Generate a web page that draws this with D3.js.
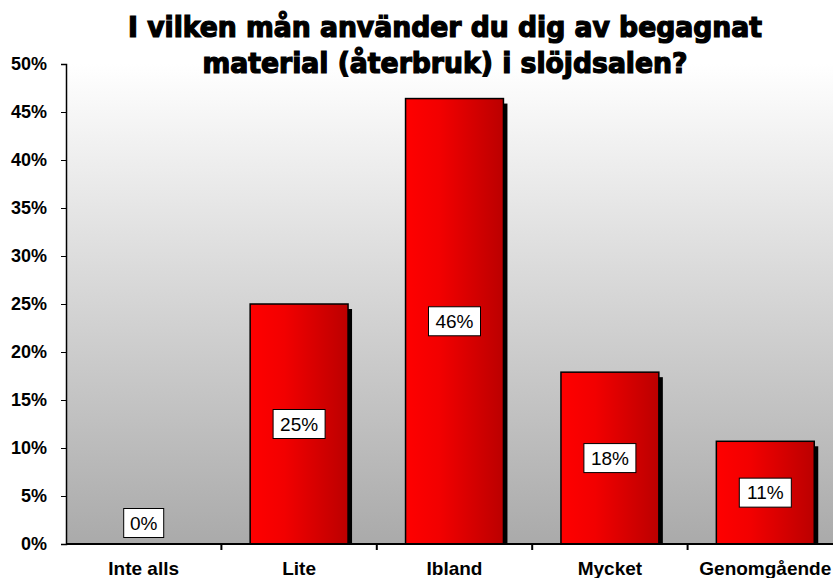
<!DOCTYPE html>
<html>
<head>
<meta charset="utf-8">
<script src="https://cdn.jsdelivr.net/npm/d3@7"></script>
<style>
  body { margin: 0; background: #fff; }
  svg { display: block; }
</style>
</head>
<body>
<div id="chart"></div>
<script>
// chart data
var categories = ["Inte alls", "Lite", "Ibland", "Mycket", "Genomgående"];
var values = [0, 25, 46.4, 17.9, 10.7];
var valueLabels = ["0%", "25%", "46%", "18%", "11%"];
var yTicks = [0, 5, 10, 15, 20, 25, 30, 35, 40, 45, 50];
var titleLines = ["I vilken mån använder du dig av begagnat", "material (återbruk) i slöjdsalen?"];

var width = 833, height = 578;
var margin = {top: 64, left: 66, bottom: 34};
var plotRight = 843;

var svg = d3.select("#chart")
  .append("svg")
  .attr("width", width)
  .attr("height", height);

var defs = svg.append("defs");

// plot background gradient
var bg = defs.append("linearGradient")
  .attr("id", "bgGrad")
  .attr("x1", 0).attr("y1", 0).attr("x2", 0).attr("y2", 1);
bg.append("stop").attr("offset", "0%").attr("stop-color", "#ffffff");
bg.append("stop").attr("offset", "100%").attr("stop-color", "#aaaaaa");

// bar gradient, bright red to dark red
var barGrad = defs.append("linearGradient")
  .attr("id", "barGrad")
  .attr("x1", 0).attr("y1", 0).attr("x2", 1).attr("y2", 0);
barGrad.append("stop").attr("offset", "0%").attr("stop-color", "#ff0000");
barGrad.append("stop").attr("offset", "35%").attr("stop-color", "#f20000");
barGrad.append("stop").attr("offset", "100%").attr("stop-color", "#bb0000");

var x = d3.scaleBand()
  .domain(categories)
  .range([margin.left, plotRight])
  .paddingInner(0.37)
  .paddingOuter(0.185);

var y = d3.scaleLinear()
  .domain([0, 50])
  .range([height - margin.bottom, margin.top]);

var y0 = y(0);

svg.append("rect")
  .attr("x", margin.left)
  .attr("y", margin.top)
  .attr("width", width - margin.left)
  .attr("height", y0 - margin.top)
  .attr("fill", "url(#bgGrad)");

// bar shadows
svg.append("g")
  .selectAll("rect")
  .data(values)
  .enter()
  .append("rect")
  .attr("x", (d, i) => x(categories[i]) + 4)
  .attr("y", d => y(d) + 5)
  .attr("width", x.bandwidth())
  .attr("height", d => Math.max(0, y0 - y(d) - 5))
  .attr("fill", "#000");

// bars
svg.append("g")
  .selectAll("rect")
  .data(values)
  .enter()
  .append("rect")
  .attr("x", (d, i) => x(categories[i]))
  .attr("y", d => y(d))
  .attr("width", x.bandwidth())
  .attr("height", d => y0 - y(d))
  .attr("fill", "url(#barGrad)")
  .attr("stroke", d => d > 0 ? "#000" : "none")
  .attr("stroke-width", 1.5);

// y axis
var yAxis = svg.append("g")
  .attr("transform", "translate(" + margin.left + ",0)")
  .call(d3.axisLeft(y).tickValues(yTicks).tickFormat(d => d + "%").tickSize(5).tickPadding(14));
yAxis.select(".domain").attr("stroke", "#000").attr("stroke-width", 1.5);
yAxis.selectAll(".tick line").attr("stroke", "#000");
yAxis.selectAll("text")
  .attr("font-family", "Arial, 'Liberation Sans', sans-serif")
  .attr("font-weight", "bold")
  .attr("font-size", "18px")
  .attr("fill", "#000");

// x axis with ticks at band boundaries
var boundaries = categories.map(c => x(c) - x.step() * x.paddingInner() / 2).slice(1);
var xAxis = svg.append("g").attr("transform", "translate(0," + y0 + ")");
xAxis.append("line")
  .attr("x1", margin.left).attr("x2", width)
  .attr("stroke", "#000").attr("stroke-width", 2);
xAxis.selectAll("line.tk")
  .data(boundaries)
  .enter()
  .append("line")
  .attr("class", "tk")
  .attr("x1", d => d).attr("x2", d => d)
  .attr("y1", 0).attr("y2", 6)
  .attr("stroke", "#000").attr("stroke-width", 2);
xAxis.selectAll("text")
  .data(categories)
  .enter()
  .append("text")
  .attr("x", d => x(d) + x.bandwidth() / 2)
  .attr("y", 31)
  .attr("text-anchor", "middle")
  .attr("font-family", "Arial, 'Liberation Sans', sans-serif")
  .attr("font-weight", "bold")
  .attr("font-size", "19px")
  .text(d => d);

// value label boxes
var labels = svg.append("g")
  .selectAll("g")
  .data(values)
  .enter()
  .append("g")
  .attr("transform", function(d, i) {
    var cx = x(categories[i]) + x.bandwidth() / 2;
    var cy = d > 0 ? (y(d) + y0) / 2 : y0 - 21;
    return "translate(" + cx + "," + cy + ")";
  });
labels.append("rect")
  .attr("x", (d, i) => valueLabels[i].length > 2 ? -26 : -20)
  .attr("y", -14.5)
  .attr("width", (d, i) => valueLabels[i].length > 2 ? 52 : 40)
  .attr("height", 29)
  .attr("fill", "#fff")
  .attr("stroke", "#000")
  .attr("stroke-width", 1);
labels.append("text")
  .attr("text-anchor", "middle")
  .attr("dy", "0.36em")
  .attr("font-family", "Arial, 'Liberation Sans', sans-serif")
  .attr("font-size", "19px")
  .text((d, i) => valueLabels[i]);

// title
svg.append("g")
  .selectAll("text")
  .data(titleLines)
  .enter()
  .append("text")
  .attr("x", 445)
  .attr("y", (d, i) => 37 + i * 36)
  .attr("text-anchor", "middle")
  .attr("font-family", "'DejaVu Sans Condensed', 'DejaVu Sans', sans-serif")
  .attr("font-weight", "bold")
  .attr("font-size", "28px")
  .attr("stroke", "#000")
  .attr("stroke-width", 1.2)
  .attr("textLength", (d, i) => i === 0 ? 634 : 485)
  .attr("lengthAdjust", "spacingAndGlyphs")
  .text(d => d);
</script>
</body>
</html>
